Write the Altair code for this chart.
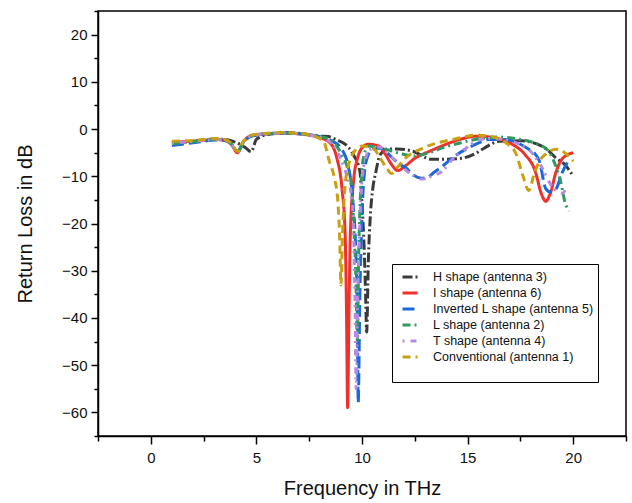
import altair as alt
import pandas as pd

series_names = [
    "H shape (antenna 3)",
    "I shape (antenna 6)",
    "Inverted L shape (antenna 5)",
    "L shape (antenna 2)",
    "T shape (antenna 4)",
    "Conventional (antenna 1)",
]
series_colors = ["#3a3a3a", "#f0302a", "#1c68d8", "#2f9a5f", "#b48be0", "#c8a010"]
series_dashes = [[10, 3, 2, 3], [1, 0], [12, 5], [8, 4, 2, 4], [2, 6, 6, 4], [8, 5]]

h_points = [(1.0,-3.0),(1.5,-2.8),(2.0,-2.6),(2.5,-2.3),(3.0,-2.1),(3.5,-2.2),(3.9,-2.6),(4.2,-3.2),
            (4.5,-4.0),(4.75,-4.8),(5.0,-2.2),(5.5,-1.2),(6.0,-0.9),(6.5,-0.8),(7.0,-0.9),(7.5,-1.2),
            (8.0,-1.5),(8.4,-1.6),(8.8,-2.3),(9.2,-3.2),(9.6,-5.5),(9.9,-9.0),(10.0,-16),(10.1,-25),
            (10.17,-35),(10.22,-43),(10.3,-28),(10.4,-18),(10.5,-13),(10.66,-9.0),(10.85,-5.5),
            (11.2,-4.2),(11.7,-4.2),(12.4,-4.7),(13.3,-6.4),(14.0,-6.4),(14.7,-6.2),(15.4,-5.1),
            (15.8,-4.0),(16.5,-2.6),(17.5,-2.5),(18.3,-3.2),(18.8,-4.5),(19.2,-6.2),(19.6,-7.5),(20.0,-10)]

i_points = [(1.0,-2.9),(1.5,-2.7),(2.0,-2.6),(2.5,-2.4),(3.0,-2.2),(3.5,-2.4),(3.8,-3.2),(4.1,-5.0),
            (4.4,-2.6),(4.7,-1.5),(5.0,-1.2),(5.5,-1.0),(6.0,-0.9),(6.5,-0.9),(7.0,-1.0),(7.5,-1.3),
            (8.0,-1.8),(8.5,-3.0),(8.8,-6.0),(9.05,-12.5),(9.2,-22),(9.27,-40),(9.32,-59),(9.38,-40),
            (9.45,-22),(9.6,-11),(9.8,-6.0),(10.0,-4.0),(10.3,-3.2),(10.8,-3.6),(11.1,-5.3),(11.4,-7.5),
            (11.7,-8.8),(12.0,-8.0),(12.5,-6.2),(13.2,-4.7),(14.0,-3.2),(14.7,-2.1),(15.5,-1.5),
            (16.5,-2.1),(17.1,-3.2),(17.7,-5.3),(18.2,-8.9),(18.5,-13.8),(18.7,-15.3),(18.9,-13.8),
            (19.2,-8.9),(19.5,-6.2),(20.0,-5.0)]

inv_l_points = [(1.0,-3.5),(1.5,-3.2),(2.0,-2.9),(2.5,-2.6),(3.0,-2.3),(3.5,-2.4),(3.8,-3.0),(4.1,-4.6),
                (4.4,-2.8),(4.7,-1.6),(5.0,-1.3),(5.5,-1.0),(6.0,-0.9),(6.5,-0.9),(7.0,-1.0),(7.5,-1.2),
                (8.0,-1.6),(8.6,-2.6),(9.0,-4.0),(9.3,-7.0),(9.5,-12),(9.6,-17),(9.7,-25),(9.78,-40),
                (9.82,-58),(9.9,-35),(10.0,-18),(10.1,-10),(10.25,-6.0),(10.5,-4.3),(10.9,-4.0),
                (11.3,-5.5),(11.7,-7.2),(12.1,-8.3),(12.4,-9.6),(12.8,-10.4),(13.1,-10.2),(13.4,-9.2),
                (13.8,-7.9),(14.4,-5.7),(14.9,-4.3),(15.5,-3.0),(16.0,-2.2),(16.8,-2.2),(17.4,-3.0),
                (17.9,-4.3),(18.2,-5.3),(18.4,-6.8),(18.7,-12.6),(18.95,-13.4),(19.2,-12.6),(19.5,-9.0),
                (19.8,-6.5)]

l_points = [(1.0,-3.1),(1.5,-2.9),(2.0,-2.7),(2.5,-2.4),(3.0,-2.2),(3.5,-2.3),(3.8,-3.0),(4.1,-4.8),
            (4.4,-2.7),(4.7,-1.5),(5.0,-1.2),(5.5,-1.0),(6.0,-0.9),(6.5,-0.9),(7.0,-1.0),(7.5,-1.2),
            (8.0,-1.6),(8.4,-2.0),(8.7,-3.0),(9.05,-5.5),(9.3,-8.0),(9.5,-12),(9.6,-20),(9.7,-30),
            (9.78,-45),(9.85,-25),(9.95,-12),(10.05,-6.5),(10.3,-3.6),(10.8,-4.0),(11.2,-4.4),
            (11.9,-5.3),(12.5,-5.7),(13.2,-5.0),(13.8,-4.0),(14.6,-3.0),(15.5,-2.1),(16.5,-1.7),
            (17.5,-2.2),(18.2,-3.0),(18.8,-4.5),(19.1,-7.0),(19.4,-11),(19.6,-15.3),(19.8,-17.4)]

t_points = [(1.0,-3.0),(1.5,-2.8),(2.0,-2.6),(2.5,-2.4),(3.0,-2.2),(3.5,-2.3),(3.8,-3.1),(4.1,-4.9),
            (4.4,-2.6),(4.7,-1.5),(5.0,-1.2),(5.5,-1.0),(6.0,-0.9),(6.5,-0.9),(7.0,-1.0),(7.5,-1.3),
            (8.0,-1.7),(8.5,-2.8),(8.8,-4.5),(9.1,-7.5),(9.35,-11),(9.55,-16),(9.62,-25),(9.68,-40),
            (9.72,-55),(9.8,-35),(9.9,-20),(10.0,-11),(10.15,-6.5),(10.4,-4.3),(10.8,-3.8),
            (11.3,-5.5),(11.9,-8.0),(12.4,-9.8),(12.8,-10.6),(13.3,-10.0),(13.9,-8.5),(14.2,-6.8),
            (14.8,-4.5),(15.4,-2.6),(16.0,-2.0),(16.8,-2.3),(17.5,-3.3),(18.0,-4.8),(18.5,-8.0),
            (18.9,-11.5),(19.3,-13.4),(19.5,-13.6),(19.65,-12.5)]

conv_points = [(1.0,-2.6),(1.5,-2.5),(2.0,-2.4),(2.5,-2.2),(3.0,-2.0),(3.5,-2.2),(3.8,-3.0),(4.1,-4.7),
               (4.4,-2.5),(4.7,-1.4),(5.0,-1.1),(5.5,-0.9),(6.0,-0.8),(6.5,-0.8),(7.0,-0.9),(7.5,-1.2),
               (7.9,-1.8),(8.2,-2.8),(8.45,-6.8),(8.7,-10.5),(8.85,-15),(8.95,-24),(9.0,-33),(9.08,-22),
               (9.2,-12),(9.4,-7.0),(9.6,-5.0),(10.0,-3.6),(10.5,-4.0),(10.9,-6.4),(11.2,-8.5),
               (11.4,-9.4),(11.7,-8.0),(12.0,-6.4),(12.8,-4.2),(13.6,-2.9),(14.4,-2.1),(15.4,-1.3),
               (16.0,-1.5),(16.9,-3.2),(17.3,-5.3),(17.6,-9.6),(17.9,-13.0),(18.15,-9.5),(18.4,-6.8),
               (18.7,-5.3),(19.2,-4.3),(19.6,-5.0),(20.0,-6.8)]

x_ticks = [-2.5, 0, 2.5, 5, 7.5, 10, 12.5, 15, 17.5, 20, 22.5]
y_ticks = [-65, -60, -55, -50, -45, -40, -35, -30, -25, -20, -15, -10, -5, 0, 5, 10, 15, 20, 25]

all_points = [h_points, i_points, inv_l_points, l_points, t_points, conv_points]
rows = []
for name, pts in zip(series_names, all_points):
    for k, (f, v) in enumerate(pts):
        rows.append({"series": name, "freq": f, "db": v, "idx": k})
df = pd.DataFrame(rows)

FONT = "Liberation Sans"

chart = alt.Chart(df).mark_line(strokeWidth=3, interpolate="monotone").encode(
    x=alt.X("freq:Q",
            scale=alt.Scale(domain=[-2.5, 22.5], nice=False, zero=False),
            axis=alt.Axis(values=x_ticks, title="Frequency in THz",
                          labelExpr="datum.value % 5 === 0 ? datum.label : ''",
                          tickSize={"condition": {"test": "datum.value % 5 === 0", "value": 8}, "value": 5},
                          labelPadding=6, titlePadding=13)),
    y=alt.Y("db:Q",
            scale=alt.Scale(domain=[-65, 25], nice=False, zero=False),
            axis=alt.Axis(values=y_ticks, title="Return Loss in dB",
                          labelExpr="datum.value % 10 === 0 ? datum.label : ''",
                          tickSize={"condition": {"test": "datum.value % 10 === 0", "value": 7}, "value": 4},
                          labelPadding=4, titlePadding=26)),
    color=alt.Color("series:N",
                    scale=alt.Scale(domain=series_names, range=series_colors),
                    legend=alt.Legend(orient="none", legendX=294, legendY=253, title=" ",
                                      titleOrient="bottom", titleFontSize=9,
                                      symbolType="M-1,0H1", symbolSize=225, symbolStrokeWidth=3,
                                      symbolOffset=5,
                                      labelFont=FONT, labelFontSize=12.5, labelColor="#111111",
                                      labelOffset=14,
                                      strokeColor="black", fillColor="white", padding=4,
                                      rowPadding=-1, labelLimit=300)),
    strokeDash=alt.StrokeDash("series:N",
                              scale=alt.Scale(domain=series_names, range=series_dashes),
                              legend=None),
    order="idx:Q",
).properties(
    width=528, height=425,
    autosize=alt.AutoSizeParams(type="none"),
    padding={"left": 98, "top": 11, "right": 6, "bottom": 67},
).configure_view(
    stroke="black", strokeWidth=1.5
).configure_axis(
    grid=False, domainColor="black", domainWidth=1.5, tickColor="black", tickWidth=1.5,
    labelFont=FONT, labelFontSize=15, labelColor="#111111",
    titleFont=FONT, titleFontSize=20, titleFontWeight="normal", titleColor="#111111",
)

chart.save("out.html", embed_options={"renderer": "svg", "actions": False})
